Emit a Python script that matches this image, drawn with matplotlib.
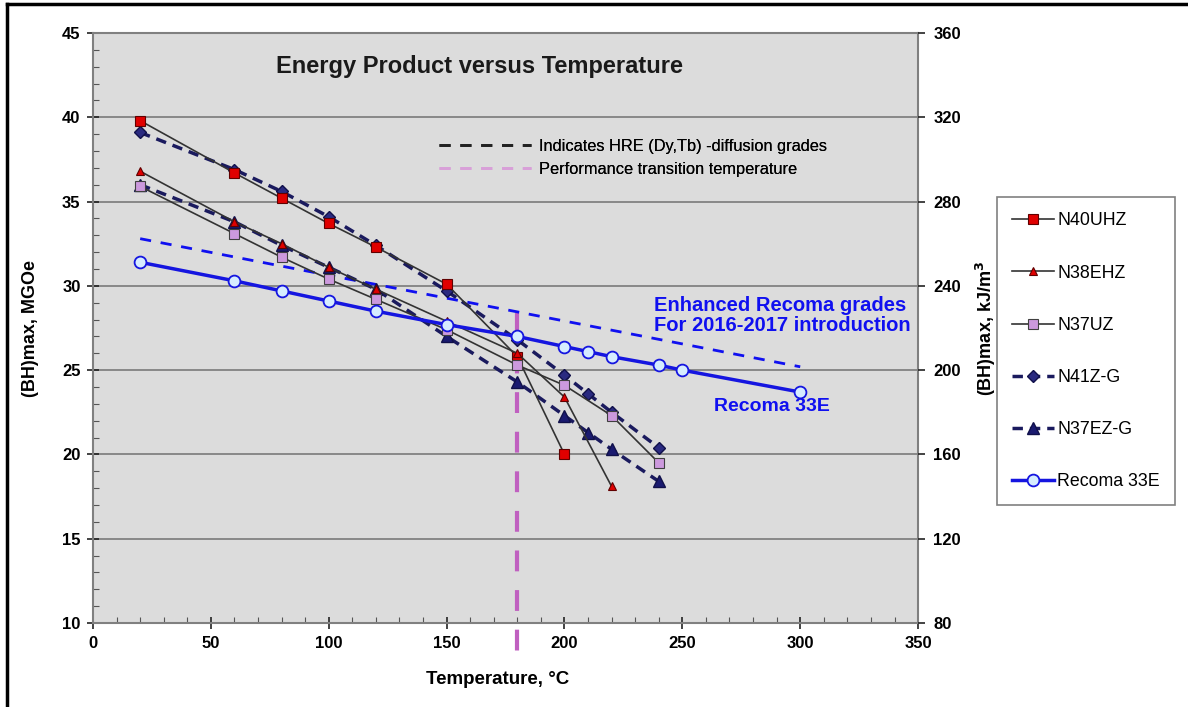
import matplotlib.pyplot as plt
from matplotlib.lines import Line2D
from matplotlib.ticker import MultipleLocator

plt.rcParams['font.family'] = ['Liberation Sans', 'DejaVu Sans']

# dados (BH)max em MGOe
temp_n40uhz = [20, 60, 80, 100, 120, 150, 180, 200]
n40uhz = [39.8, 36.7, 35.2, 33.7, 32.3, 30.1, 25.8, 20.0]

temp_n38ehz = [20, 60, 80, 100, 120, 150, 180, 200, 220]
n38ehz = [36.8, 33.8, 32.5, 31.1, 29.8, 27.9, 26.0, 23.4, 18.1]

temp_n37uz = [20, 60, 80, 100, 120, 150, 180, 200, 220, 240]
n37uz = [35.9, 33.1, 31.7, 30.4, 29.2, 27.4, 25.3, 24.1, 22.3, 19.5]

temp_n41zg = [20, 60, 80, 100, 120, 150, 180, 200, 210, 220, 240]
n41zg = [39.1, 36.9, 35.6, 34.1, 32.4, 29.7, 26.8, 24.7, 23.6, 22.5, 20.4]

temp_n37ezg = [20, 60, 80, 100, 120, 150, 180, 200, 210, 220, 240]
n37ezg = [36.0, 33.8, 32.4, 31.1, 29.8, 27.0, 24.3, 22.3, 21.3, 20.3, 18.4]

temp_recoma = [20, 60, 80, 100, 120, 150, 180, 200, 210, 220, 240, 250, 300]
recoma33e = [31.4, 30.3, 29.7, 29.1, 28.5, 27.7, 27.0, 26.4, 26.1, 25.8, 25.3, 25.0, 23.7]

# linha tracejada das novas classes Recoma
temp_enhanced = [20, 300]
enhanced = [32.8, 25.2]

# temperatura de transicao
temp_transicao = [180, 180]
y_transicao = [28.4, 8.0]

fig = plt.figure(figsize=(11.88, 7.07), dpi=100)
ax = fig.add_axes([0.0783, 0.1188, 0.6945, 0.8345])
ax.set_facecolor('#DCDCDC')

ax.plot(temp_transicao, y_transicao, color='#C060C0', lw=3, ls=(0, (5, 4.5)),
        clip_on=False, zorder=2)
ax.plot(temp_enhanced, enhanced, color='#1010F0', lw=2, ls=(0, (4, 3.5)), zorder=2)

ax.plot(temp_n40uhz, n40uhz, color='#333333', lw=1.2, marker='s', ms=7.5,
        mfc='#E00000', mec='#600000', mew=0.8, label='N40UHZ', zorder=4)
ax.plot(temp_n38ehz, n38ehz, color='#333333', lw=1.2, marker='^', ms=6,
        mfc='#E00000', mec='#600000', mew=0.8, label='N38EHZ', zorder=4)
ax.plot(temp_n37uz, n37uz, color='#333333', lw=1.2, marker='s', ms=7.5,
        mfc='#CC99DD', mec='#404040', mew=0.8, label='N37UZ', zorder=4)
ax.plot(temp_n41zg, n41zg, color='#1A1A5E', lw=2.5, ls=(0, (3, 2)), marker='D', ms=6,
        mfc='#2A2A80', mec='#10104A', mew=1.0, label='N41Z-G', zorder=3)
ax.plot(temp_n37ezg, n37ezg, color='#1A1A5E', lw=2.5, ls=(0, (3, 2)), marker='^', ms=8,
        mfc='#1A1A70', mec='#10104A', mew=1.0, label='N37EZ-G', zorder=3)
ax.plot(temp_recoma, recoma33e, color='#1515E0', lw=2.5, marker='o', ms=8.5,
        mfc='#D6ECFF', mec='#1515E0', mew=1.3, label='Recoma 33E', zorder=5)

ax.set_xlim(0, 350)
ax.set_ylim(10, 45)
ax.xaxis.set_major_locator(MultipleLocator(50))
ax.xaxis.set_minor_locator(MultipleLocator(10))
ax.yaxis.set_major_locator(MultipleLocator(5))
ax.yaxis.set_minor_locator(MultipleLocator(1))
ax.grid(True, which='major', axis='y', color='#7A7A7A', lw=1.2)
ax.set_axisbelow(True)
for s in ax.spines.values():
    s.set_color('#808080')
    s.set_linewidth(1.5)

ax.tick_params(which='major', direction='inout', length=8, width=1.2, labelsize=12,
               color='#222222', pad=5)
ax.tick_params(which='minor', direction='in', length=4, width=0.8, color='#555555')
for lbl in ax.get_xticklabels() + ax.get_yticklabels():
    lbl.set_fontweight('bold')

ax.set_xlabel('Temperature, °C', fontsize=13.5, fontweight='bold')
ax.xaxis.set_label_coords(0.49, -0.082)
ax.set_ylabel('(BH)max, MGOe', fontsize=13, fontweight='bold')
ax.yaxis.set_label_coords(-0.066, 0.5)

ax2 = ax.twinx()
ax2.set_ylim(80, 360)
ax2.yaxis.set_major_locator(MultipleLocator(40))
ax2.tick_params(direction='out', length=5, width=1.2, labelsize=12, color='#222222', pad=6)
for lbl in ax2.get_yticklabels():
    lbl.set_fontweight('bold')
for s in ax2.spines.values():
    s.set_visible(False)
ax2.set_ylabel('(BH)max, kJ/m$^\\mathbf{3}$', fontsize=13, fontweight='bold')
ax2.yaxis.set_label_coords(1.068, 0.5)

ax.text(164, 43.0, 'Energy Product versus Temperature', fontsize=17,
        fontweight='bold', ha='center', va='center', color='#1A1A1A')
ax.text(238, 28.25, 'Enhanced Recoma grades\nFor 2016-2017 introduction', fontsize=14.5,
        fontweight='bold', color='#1010F0', ha='left', va='center', linespacing=1.1)
ax.text(288, 22.85, 'Recoma 33E', fontsize=14, fontweight='bold', color='#1010F0',
        ha='center', va='center')

# legenda interna (tipos de linha)
proxy = [Line2D([], [], color='#222222', lw=2, ls=(0, (4, 3.5))),
         Line2D([], [], color='#D8A0D8', lw=2, ls=(0, (4, 3.5)))]
leg_in = ax.legend(proxy, ['Indicates HRE (Dy,Tb) -diffusion grades',
                           'Performance transition temperature'],
                   loc='upper left', bbox_to_anchor=(0.402, 0.845), frameon=False,
                   fontsize=11.8, handlelength=5.6, handletextpad=0.45, labelspacing=0.45)
ax.add_artist(leg_in)

# legenda das series, fora do grafico
h, l = ax.get_legend_handles_labels()
leg = fig.legend(h, l, loc='upper left', bbox_to_anchor=(0.839, 0.721), fontsize=12.8,
                 handlelength=2.35, handletextpad=0.2, labelspacing=1.98,
                 borderpad=0.85, borderaxespad=0, fancybox=False, framealpha=1)
leg.get_frame().set_edgecolor('#808080')
leg.get_frame().set_linewidth(1.2)

# moldura da figura (so topo e esquerda visiveis)
fig.add_artist(Line2D([0.006, 1.0], [0.994, 0.994], color='black', lw=2.5,
                      transform=fig.transFigure))
fig.add_artist(Line2D([0.006, 0.006], [0.0, 0.994], color='black', lw=2.5,
                      transform=fig.transFigure))

fig.savefig('out.png', dpi=100)
